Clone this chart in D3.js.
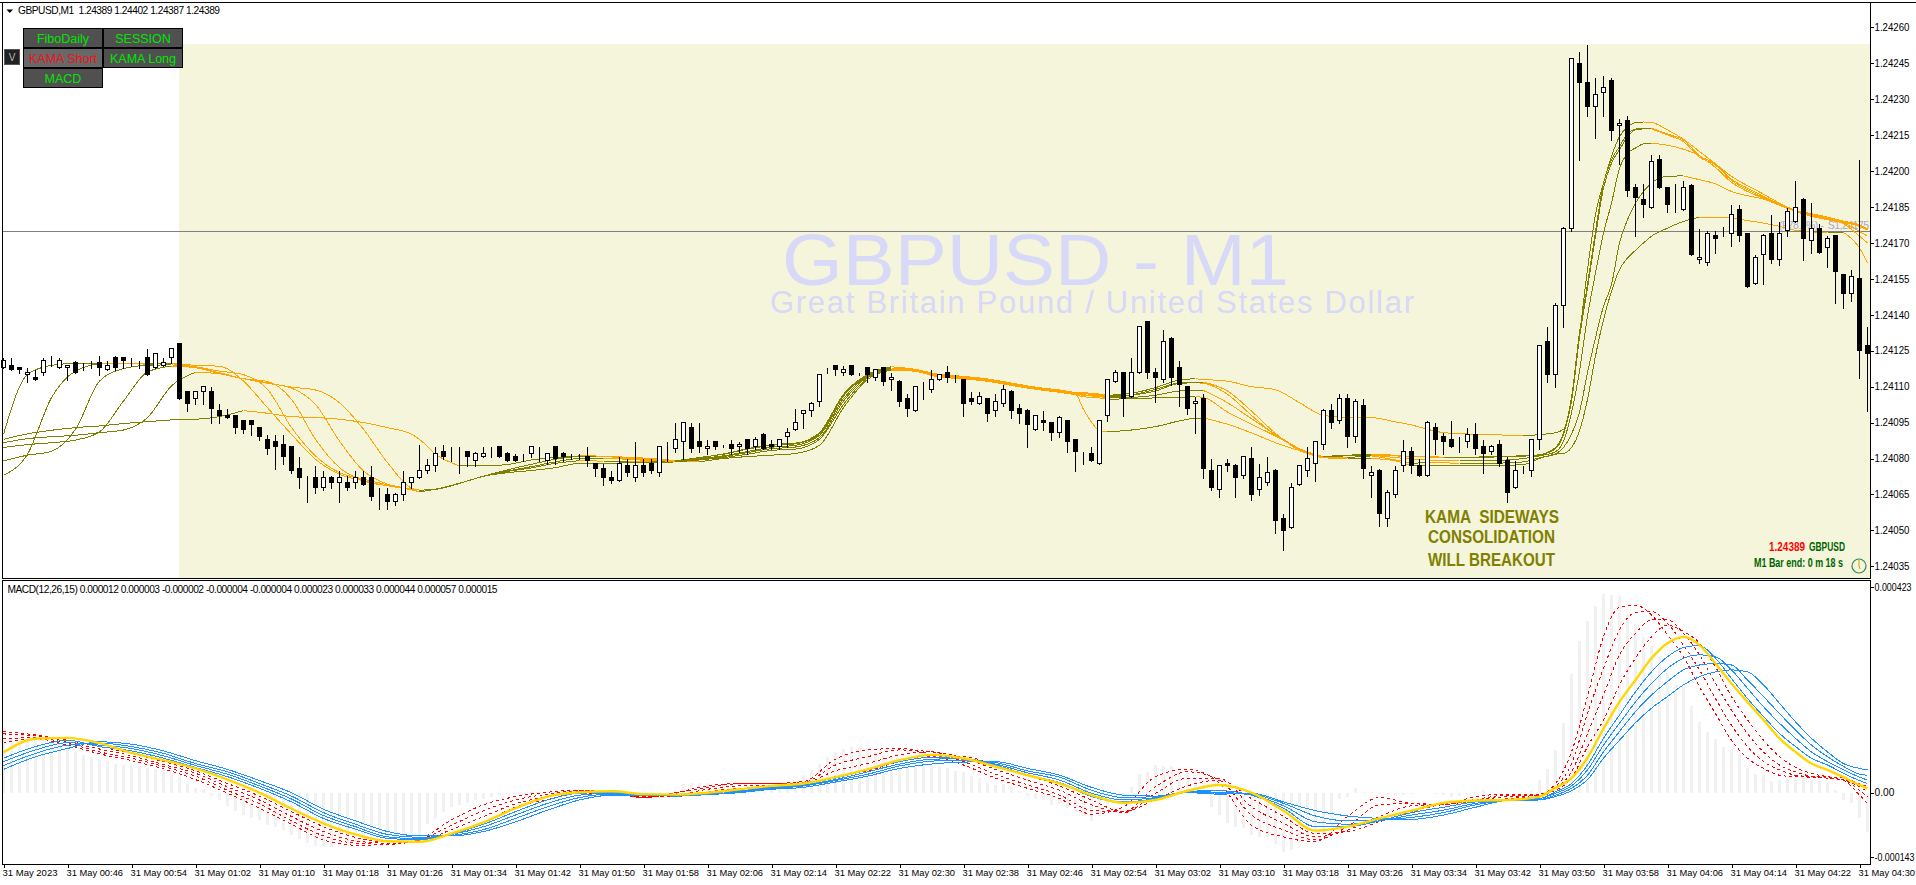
<!DOCTYPE html>
<html><head><meta charset="utf-8">
<style>
html,body{margin:0;padding:0;background:#fff;overflow:hidden}
svg{display:block}
text{font-family:"Liberation Sans",Arial,sans-serif;white-space:pre}
.crisp{shape-rendering:crispEdges}
.axis text{font-size:10.2px;fill:#000}
.axis line{stroke:#000;shape-rendering:crispEdges}
</style>
<script src="https://cdnjs.cloudflare.com/ajax/libs/d3/7.8.5/d3.min.js"></script>
</head><body><div id="chart"></div>
<script>
// ---------- data (prices in points above 1.24000) ----------
const priceBase = 1.24, pointSize = 0.00001;
const opens = [118,119,118,115,114,116,121,118,118,120,118,118,120,117,122,122,120,119,122,118,
119,122,128,108,105,108,108,100,98,98,96,96,93,88,87,86,85,76,72,72,
68,72,70,70,70,72,72,63,65,62,65,70,72,75,77,83,81,81,83,79,
81,82,85,82,81,81,82,81,79,85,82,82,81,81,78,76,72,71,77,72,
77,78,74,83,84,87,93,87,84,87,85,86,85,88,85,90,86,85,89,92,
99,100,104,117,119,116,119,115,118,114,118,113,112,105,100,110,109,113,116,115,
113,105,103,105,100,103,108,101,100,92,96,95,91,96,88,81,82,78,98,112,
116,106,116,137,116,113,130,118,110,103,105,75,67,78,77,73,80,67,70,75,
55,51,69,75,78,86,100,96,105,89,102,73,75,55,65,77,83,77,73,93,
89,88,86,87,90,85,83,86,79,68,76,75,88,129,115,144,176,245,237,227,
233,238,219,221,193,188,185,205,193,186,184,194,163,162,173,173,174,184,174,153,
165,174,163,175,179,188,171,176,168,173,157,149,155,127];
const closes = [121,117,117,116,113,121,121,121,119,116,118,118,118,119,118,121,120,119,115,124,
120,126,105,103,108,110,101,98,97,93,92,94,89,84,85,81,75,72,72,68,
72,70,72,68,72,69,64,63,62,65,70,72,75,77,82,81,81,81,81,82,
82,82,81,79,79,81,85,81,82,80,81,82,81,79,76,72,71,78,74,77,
74,75,85,83,88,95,84,85,85,85,85,84,86,84,88,84,85,88,91,95,
100,103,115,117,117,117,115,115,115,117,112,114,104,101,110,110,113,115,114,115,
103,104,106,99,104,109,100,99,94,98,95,91,97,87,83,81,79,96,113,116,
105,116,135,116,114,129,114,111,101,104,76,68,77,77,72,81,65,72,74,54,
50,68,77,80,87,100,95,105,89,104,76,74,57,66,75,83,77,73,95,88,
87,85,86,90,84,82,85,78,66,75,76,88,127,115,144,176,247,237,227,232,
235,217,220,192,189,186,204,193,186,186,193,165,164,174,172,173,182,173,152,164,
173,163,174,183,185,172,176,166,172,158,149,156,125,124];
const highs = [122,122,118,118,117,122,123,122,119,121,120,121,123,121,123,122,122,121,126,124,
122,126,128,108,108,110,110,103,101,98,96,96,93,90,90,90,85,81,73,77,
75,73,75,73,75,75,77,68,68,66,75,72,86,80,85,86,85,85,83,83,
85,85,85,83,82,82,85,85,82,85,83,82,82,85,78,78,75,81,80,87,
80,80,85,87,95,95,95,95,88,87,86,88,87,88,89,91,88,88,93,101,
100,104,115,118,119,119,119,116,118,117,118,116,113,107,110,112,117,115,119,115,
113,108,108,105,107,111,109,103,101,98,100,95,98,96,88,83,85,96,113,117,
116,122,135,137,118,134,131,121,110,106,107,80,77,80,78,81,85,78,81,76,
57,70,77,85,87,101,103,107,107,105,105,77,76,67,77,88,85,80,96,95,
91,96,89,93,95,88,86,88,81,79,77,88,127,135,145,177,247,250,253,239,
240,239,222,223,195,195,207,207,193,195,196,195,176,175,175,177,186,186,174,165,
174,182,179,185,196,189,187,178,173,173,157,159,205,135];
const lows = [118,117,116,112,113,115,119,118,113,116,117,118,115,117,117,118,119,118,115,118,
119,120,105,100,103,103,95,95,97,91,91,90,88,82,76,78,74,68,62,66,
67,68,62,67,68,69,63,59,59,61,63,68,72,74,75,80,79,74,77,77,
81,81,81,79,79,79,81,79,78,78,79,80,80,77,73,69,70,71,73,71,
73,74,73,79,83,80,83,83,82,84,85,82,83,82,84,84,84,84,85,92,
93,98,102,116,115,115,115,115,112,113,111,109,102,98,100,105,108,113,112,112,
98,103,103,96,98,102,97,95,85,92,92,88,89,83,75,78,79,78,96,112,
98,106,116,114,104,112,111,102,99,91,72,67,64,75,64,72,63,65,69,49,
42,51,69,73,71,84,93,95,85,87,72,64,52,52,64,75,74,73,73,82,
82,85,83,85,82,74,82,77,62,68,74,73,84,112,110,135,175,205,223,214,
223,213,203,190,173,181,185,193,183,183,184,165,162,161,166,173,169,171,152,153,
153,162,161,173,179,163,166,166,160,145,143,146,114,100];

const kamaBars = [0,3,6,9,12,15,18,21,24,27,30,33,36,39,42,45,48,51,52,54,57,
60,63,66,69,72,75,78,81,84,87,90,93,96,99,102,105,108,111,114,117,120,123,126,129,132,
134,135,136,137,138,141,144,147,149,150,153,156,159,162,165,168,171,174,
176,178,180,182,184,186,188,190,192,194,195,196,197,198,199,200,201,202,203,204,205,206,
208,210,212,214,216,218,220,222,224,226,228,230,232,233];
const kamaA = [90.1,115.1,118.9,119.7,119.8,119.7,119.6,119.7,118.9,118.5,112.3,101.2,90.1,79.7,73.4,70.7,68.6,66.9,66.1,67.2,69.7,
72.6,75.3,77.6,79.7,81.1,81.0,80.5,80.0,79.1,80.4,81.9,84.1,85.8,86.4,90.8,106.8,115.1,118.3,117.2,115.1,114.3,113.2,111.5,109.8,108.6,
107.6,107.5,107.2,106.9,106.4,107.2,109.6,112.8,113.3,113.0,112.3,110.0,108.7,103.3,98.0,97.2,97.1,95.3,
94.0,92.2,90.8,90.4,90.1,90.0,89.7,89.4,90.0,90.8,92.2,104.0,131.1,158.9,181.8,195.0,206.1,214.4,218.3,220.3,220.5,220.3,
217.2,213.3,208.2,203.0,197.8,193.9,190.4,186.6,183.6,182.2,180.8,179.1,177.6,175.8];
const kamaB = [73.0,81.8,105.4,116.5,119.4,119.7,119.4,119.6,118.3,116.5,115.0,108.9,92.9,81.1,74.1,71.4,69.0,66.9,66.1,67.2,69.7,
72.6,75.3,77.6,79.7,81.1,81.0,80.4,79.7,79.0,80.4,81.8,83.9,85.5,86.1,90.3,106.1,114.7,117.8,116.9,114.8,114.0,112.9,111.2,109.6,108.3,
107.3,107.1,106.8,106.6,106.1,106.6,108.9,111.6,111.9,111.9,108.2,99.8,90.5,83.3,80.8,81.4,81.6,81.4,
80.8,80.7,80.6,80.6,80.6,80.8,81.0,81.1,81.6,84.6,90.8,105.4,132.5,152.6,174.8,195.0,204.7,210.3,215.5,217.5,217.9,217.9,
215.5,213.0,206.4,203.0,196.6,192.9,189.4,186.1,183.6,181.8,180.4,178.7,177.2,175.5];
const kamaC = [79.0,81.4,83.0,92.2,112.3,117.5,118.9,119.1,117.9,115.5,113.3,112.2,104.7,88.0,76.2,70.7,68.6,66.9,66.1,67.2,69.7,
72.6,74.8,76.6,78.6,80.0,80.0,79.7,79.1,78.9,80.0,81.1,82.9,84.7,85.5,89.7,105.0,114.4,117.5,116.6,114.6,113.7,112.6,110.9,109.3,108.0,
107.1,106.6,106.4,106.2,105.8,106.4,108.2,111.4,111.6,111.4,106.8,98.0,89.7,84.1,80.8,81.1,81.5,81.1,
80.7,80.6,80.3,80.3,80.3,80.6,80.7,81.0,81.5,84.1,90.1,104.0,130.4,151.2,172.8,192.9,203.3,208.9,214.4,217.2,217.6,217.6,
215.1,212.3,205.8,202.5,196.1,192.2,189.0,186.0,183.4,181.5,180.1,178.6,176.9,175.3];
const kamaD = [84.6,85.8,86.6,87.7,91.1,104.0,116.1,118.6,117.9,115.8,113.3,111.4,109.4,102.6,87.3,74.8,69.3,67.2,66.1,67.2,69.7,
72.6,74.6,76.1,78.0,79.1,78.9,78.9,78.7,78.7,79.7,80.8,82.5,84.1,84.8,88.7,104.0,114.0,117.2,116.5,114.3,113.4,112.3,110.7,109.0,107.8,
106.8,106.4,106.1,105.8,105.3,105.5,106.4,108.2,108.4,108.4,103.3,96.6,90.1,84.1,80.8,81.1,81.4,80.4,
79.7,79.4,79.1,79.0,79.0,79.1,79.4,80.0,81.1,82.8,87.3,99.1,116.5,139.4,157.5,174.1,186.6,201.2,207.5,209.6,211.4,211.6,
210.8,209.1,206.4,201.5,195.3,191.5,188.6,185.7,183.2,181.4,180.0,178.3,174.8,172.8];
const kamaE = [86.6,88.3,89.1,89.7,90.8,91.9,97.1,110.3,116.0,115.4,113.3,111.6,109.8,108.6,103.3,92.2,78.3,67.6,66.8,67.1,69.6,
72.6,74.1,75.0,76.2,78.0,78.0,78.2,78.3,78.6,79.4,80.4,81.8,83.4,83.9,88.0,102.6,113.6,117.2,116.4,114.0,113.3,112.2,110.5,108.9,107.6,
106.6,105.8,105.5,105.3,104.7,105.0,105.3,105.5,105.8,105.5,99.4,94.3,89.4,83.9,80.7,80.4,81.1,79.4,
78.0,78.3,78.2,78.0,78.0,78.0,78.2,78.6,80.3,81.9,84.6,90.1,99.4,115.8,130.4,143.6,152.6,170.0,179.7,186.6,191.5,195.0,
197.8,198.0,196.4,194.7,191.5,189.7,188.3,185.7,183.2,181.1,179.7,178.0,172.8,170.0];
const kamaF = [88.0,90.3,91.8,92.9,93.6,94.6,95.4,96.1,96.4,97.5,100.0,98.9,97.5,97.1,96.4,95.0,92.9,90.1,88.0,81.8,76.9,
76.9,77.5,79.4,80.4,80.8,81.0,80.0,79.6,79.0,78.6,80.0,80.8,81.4,82.1,85.5,101.2,113.0,116.9,116.4,114.6,113.9,112.8,111.1,109.4,108.2,
106.9,100.5,95.2,91.5,91.1,91.9,93.3,95.7,96.8,96.9,94.3,90.7,86.6,83.3,80.3,80.0,80.0,79.0,
76.9,77.0,77.0,77.0,77.0,77.2,77.2,77.5,80.0,81.8,82.1,84.6,91.5,104.7,122.8,138.0,149.8,158.9,163.7,166.9,170.0,172.8,
176.2,179.0,180.8,180.7,180.4,179.3,178.3,176.9,175.3,174.6,174.4,174.4,167.9,161.6];

// MACD values in millionths
const macdUnit = 0.000001;
const macdHist = [112,108,112,115,112,108,105,102,95,84,78,73,69,66,60,57,57,54,50,48,
47,40,32,18,10,7,-7,-16,-27,-37,-46,-53,-56,-67,-70,-77,-87,-96,-103,-110,
-110,-111,-108,-104,-101,-96,-94,-91,-87,-91,-91,-87,-94,-65,-53,-39,-29,-25,-21,-15,
-12,-8,-5,-3,-3,-2,-1,0,1,1,2,2,1,1,-1,-2,-5,-6,-6,-4,
-3,-4,-2,2,5,18,19,21,19,18,18,18,16,14,12,11,14,14,18,25,
36,47,60,74,84,89,95,93,88,84,78,73,67,60,57,60,57,54,50,45,
43,34,30,21,16,18,14,4,-7,-12,-16,-25,-23,-32,-39,-49,-58,-49,-23,-15,
-8,11,38,43,57,54,54,47,43,33,26,-30,-46,-63,-71,-73,-87,-91,-91,-106,
-122,-117,-104,-97,-94,-87,-70,-12,-8,9,2,2,-3,-5,-7,-5,-3,-1,-1,-3,
-5,-8,-7,-3,2,5,2,0,-3,-3,-1,5,27,49,88,143,244,313,354,385,
409,407,405,369,347,321,302,280,246,222,218,178,146,126,111,95,90,78,50,38,
36,25,27,30,27,30,27,25,23,5,-15,-22,-53,-80];
const macdBars = [0,4,8,12,16,20,24,28,32,36,40,44,48,52,56,60,64,68,72,76,
80,84,88,92,96,100,104,108,112,116,120,124,128,132,136,140,144,148,152,156,
160,164,168,172,176,180,184,188,192,194,196,198,200,202,204,206,208,210,212,214,216,218,220,222,224,226,228,230,232,233];
const macdGold = [83,111,113,102,82,67,50,27,0,-33,-63,-86,-100,-101,-84,-61,-32,-8,1,3,
-3,-4,0,7,14,19,32,48,67,78,71,54,36,19,-5,-21,-15,4,16,0,
-37,-78,-70,-53,-37,-21,-16,-15,-8,10,30,72,132,187,232,277,308,321,304,266,225,187,150,112,84,60,47,32,16,9];
const macdRed1 = [102,111,98,80,66,49,27,-1,-32,-65,-97,-108,-107,-96,-56,-25,-8,1,5,0,
-10,0,14,19,19,23,69,88,91,78,57,30,9,-12,-44,-29,33,48,19,-67,
-91,-101,-49,-10,-22,-25,-8,-3,-3,19,84,198,321,382,386,366,325,280,218,163,108,71,50,36,33,32,30,25,-5,-22];
const macdRed2 = [112,113,102,84,71,54,34,5,-23,-58,-89,-104,-106,-97,-67,-37,-15,-3,4,0,
-10,-1,11,18,18,21,57,74,88,84,64,38,16,-5,-36,-39,12,43,26,-46,
-77,-97,-70,-25,-22,-25,-14,-5,-5,12,60,163,256,335,371,373,349,304,253,194,139,95,64,47,36,33,30,26,5,-8];
const macdRed3 = [121,117,105,90,76,58,40,12,-15,-49,-80,-99,-104,-99,-76,-49,-23,-8,2,-1,
-8,-5,7,14,15,19,45,60,78,84,71,48,26,5,-25,-41,-1,30,30,-29,
-63,-91,-77,-49,-27,-24,-16,-8,-6,9,43,122,201,284,328,356,356,328,284,225,170,122,84,57,43,34,32,27,12,2];
const macdRed4 = [126,119,108,95,81,64,45,19,-7,-39,-70,-92,-101,-101,-84,-61,-30,-14,-1,-3,
-7,-8,2,9,11,16,33,45,64,74,74,57,36,14,-15,-39,-14,14,26,-12,
-49,-84,-80,-60,-39,-24,-19,-12,-8,5,30,95,150,222,277,321,345,332,308,259,198,150,108,74,52,40,33,30,19,12];
const macdBlue1 = [71,95,108,95,86,71,52,33,9,-19,-53,-75,-94,-97,-85,-65,-39,-15,-1,0,
-3,-3,0,7,11,18,30,47,64,73,69,57,36,21,-8,-19,-12,3,4,-5,
-32,-70,-70,-58,-41,-30,-19,-16,-12,2,19,57,112,160,208,249,280,299,303,277,235,194,157,122,95,71,57,40,25,19];
const macdBlue2 = [64,88,103,98,91,76,56,38,14,-13,-47,-70,-91,-95,-86,-70,-46,-22,-5,-1,
-4,-5,-1,4,10,16,27,43,59,69,70,59,41,26,-1,-15,-10,2,1,-5,
-27,-60,-65,-58,-46,-36,-22,-16,-12,-1,14,47,98,143,187,225,256,277,284,280,253,215,177,143,112,84,64,47,32,26];
const macdBlue3 = [56,81,98,102,95,81,60,43,19,-7,-41,-65,-86,-92,-88,-76,-53,-29,-10,-3,
-5,-5,-3,2,8,14,25,38,55,65,67,62,45,32,5,-10,-8,1,-1,-3,
-22,-48,-58,-56,-51,-41,-25,-16,-14,-5,9,36,84,126,167,201,229,253,263,266,263,232,198,163,129,98,74,54,38,36];
const macdBlue4 = [48,74,91,105,100,86,66,48,25,0,-34,-58,-80,-89,-89,-80,-60,-36,-15,-5,
-5,-7,-4,0,7,11,22,34,50,59,63,64,50,36,11,-5,-7,0,-3,-1,
-19,-37,-48,-53,-55,-46,-30,-16,-15,-8,4,27,71,108,144,174,198,222,239,249,253,249,222,184,146,112,84,60,50,47];

const priceTicks = [1.24260,1.24245,1.24230,1.24215,1.24200,1.24185,1.24170,1.24155,1.24140,1.24125,1.24110,1.24095,1.24080,1.24065,1.24050,1.24035];
const macdTicks = [0.000423,0,-0.000143];
const macdTickLabels = ["0.000423","0.00","-0.000143"];
const timeLabels = ["31 May 2023","31 May 00:46","31 May 00:54","31 May 01:02","31 May 01:10","31 May 01:18","31 May 01:26","31 May 01:34","31 May 01:42","31 May 01:50",
"31 May 01:58","31 May 02:06","31 May 02:14","31 May 02:22","31 May 02:30","31 May 02:38","31 May 02:46","31 May 02:54","31 May 03:02","31 May 03:10",
"31 May 03:18","31 May 03:26","31 May 03:34","31 May 03:42","31 May 03:50","31 May 03:58","31 May 04:06","31 May 04:14","31 May 04:22","31 May 04:30"];

// ---------- layout ----------
const W=1916,H=885, left=2, axisX=1870, mainTop=2, mainBot=578, macdTop=580, macdBot=864;
const svg=d3.select("#chart").append("svg").attr("width",W).attr("height",H);
const x=d3.scaleLinear().domain([0,233]).range([3.5,3.5+8*233]);
const y=d3.scaleLinear().domain([1.24035,1.24245]).range([566.3,63.3]);
const ym=d3.scaleLinear().domain([0,0.000423]).range([792.7,587.3]);
const px=v=>priceBase+v*pointSize;
const snap=v=>Math.round(v-0.5)+0.5;

// session shade
svg.append("rect").attr("x",179).attr("y",44).attr("width",axisX-179).attr("height",mainBot-44).attr("fill","#f5f5dc");

// watermark titles
svg.append("text").attr("x",782).attr("y",285).attr("font-size",72).attr("fill","#d8d8f8")
  .attr("textLength",507).attr("lengthAdjust","spacingAndGlyphs").text("GBPUSD - M1");
svg.append("text").attr("x",770).attr("y",313).attr("font-size",31).attr("fill","#d8d8f8")
  .attr("textLength",644).attr("lengthAdjust","spacing").text("Great Britain Pound / United States Dollar");

// horizontal line and faint fibo label
svg.append("line").attr("class","crisp").attr("x1",left).attr("x2",axisX).attr("y1",231.5).attr("y2",231.5).attr("stroke","#808080");
svg.append("text").attr("x",1779).attr("y",229).attr("font-size",10.5).attr("fill","#a6a6cc")
  .attr("textLength",90).attr("lengthAdjust","spacing").text("(F78.6%) -  S1,24175");

// KAMA lines: orange when falling, olive otherwise
const kamaLine=d3.line().x(d=>x(d[0])).y(d=>y(px(d[1]))).curve(d3.curveMonotoneX);
const gK=svg.append("g").attr("class","crisp").attr("fill","none");
[kamaF,kamaE,kamaD,kamaC,kamaB,kamaA].forEach(series=>{
  const pts=kamaBars.map((b,i)=>[b,series[i]]);
  let run=[pts[0]], falling=pts[1][1]<pts[0][1];
  const flush=()=>gK.append("path").attr("d",kamaLine(run)).attr("stroke",falling?"#ffa500":"#808000");
  for(let i=1;i<pts.length;i++){
    const f=pts[i][1]<pts[i-1][1];
    if(f!==falling){flush();run=[pts[i-1]];falling=f;}
    run.push(pts[i]);
  }
  flush();
});

// candles
const candles=opens.map((o,i)=>({i,o,c:closes[i],h:highs[i],l:lows[i]}));
const gC=svg.append("g").attr("class","crisp");
gC.selectAll("line").data(candles).join("line")
  .attr("x1",d=>x(d.i)).attr("x2",d=>x(d.i))
  .attr("y1",d=>snap(y(px(d.h)))).attr("y2",d=>snap(y(px(d.l)))+1).attr("stroke","#000");
gC.selectAll("rect").data(candles).join("rect")
  .attr("x",d=>x(d.i)-2).attr("width",4)
  .attr("y",d=>snap(y(px(Math.max(d.o,d.c)))))
  .attr("height",d=>Math.max(0,snap(y(px(Math.min(d.o,d.c))))-snap(y(px(Math.max(d.o,d.c))))))
  .attr("fill",d=>d.c>d.o?"#fff":"#000").attr("stroke","#000");

// MACD pane
const gH=svg.append("g").attr("class","crisp").attr("fill","#f1f1f1");
gH.selectAll("rect").data(macdHist).join("rect")
  .attr("x",(d,i)=>x(i)-1.5).attr("width",3)
  .attr("y",d=>Math.min(ym(d*macdUnit),ym(0))).attr("height",d=>Math.abs(ym(d*macdUnit)-ym(0)));
const macdLine=d3.line().x((d,i)=>x(macdBars[i])).y(d=>ym(d*macdUnit)).curve(d3.curveMonotoneX);
[macdRed4,macdRed3,macdRed2,macdRed1].forEach(s=>svg.append("path").attr("class","crisp").attr("d",macdLine(s))
  .attr("fill","none").attr("stroke","#ff0000").attr("stroke-dasharray","3 3"));
[macdBlue4,macdBlue3,macdBlue2,macdBlue1].forEach(s=>svg.append("path").attr("class","crisp").attr("d",macdLine(s))
  .attr("fill","none").attr("stroke","#1e90ff"));
svg.append("path").attr("d",macdLine(macdGold)).attr("fill","none").attr("stroke","#ffd700").attr("stroke-width",2.4);

// frames
const frame=svg.append("g").attr("class","crisp").attr("stroke","#000");
[[0,W,2.5,2.5],[left+.5,left+.5,2,mainBot+1],[left+.5,left+.5,macdTop,macdBot+1],[left,axisX,mainBot+.5,mainBot+.5],
 [left,axisX,macdTop+.5,macdTop+.5],[left,axisX,macdBot+.5,macdBot+.5],[axisX+.5,axisX+.5,2,mainBot+1],[axisX+.5,axisX+.5,macdTop,macdBot+1]]
 .forEach(l=>frame.append("line").attr("x1",l[0]).attr("x2",l[1]).attr("y1",l[2]).attr("y2",l[3]));

// axes
const ax1=svg.append("g").attr("class","axis").attr("transform",`translate(${axisX+.5},0)`)
  .call(d3.axisRight(y).tickValues(priceTicks).tickFormat(d3.format(".5f")).tickSize(3).tickPadding(1));
ax1.select(".domain").remove();
ax1.selectAll("text").attr("textLength",35).attr("lengthAdjust","spacingAndGlyphs");
const ax2=svg.append("g").attr("class","axis").attr("transform",`translate(${axisX+.5},0)`)
  .call(d3.axisRight(ym).tickValues(macdTicks).tickFormat((d,i)=>macdTickLabels[i]).tickSize(3).tickPadding(1));
ax2.select(".domain").remove();
ax2.selectAll(".tick").filter(d=>d<0).attr("transform",`translate(0,${ym(-0.000143)-4.7})`);
ax2.selectAll(".tick").filter(d=>d<0).select("text").attr("textLength",40).attr("lengthAdjust","spacingAndGlyphs");
ax2.selectAll(".tick").filter(d=>d>0).select("text").attr("textLength",37).attr("lengthAdjust","spacingAndGlyphs");
const timeBars=timeLabels.map((d,i)=>i*8);
const ax3=svg.append("g").attr("class","axis").attr("transform",`translate(0,${macdBot+.5})`)
  .call(d3.axisBottom(x).tickValues(timeBars).tickFormat((d,i)=>timeLabels[i]).tickSize(3).tickPadding(2));
ax3.select(".domain").remove();
ax3.selectAll("text").attr("text-anchor","start").attr("dx",-1.5).style("font-size","9.7px")
  .attr("textLength",(d,i)=>i===0?55:56.5).attr("lengthAdjust","spacingAndGlyphs");

// headers
svg.append("path").attr("d","M6.5 9.5H13L9.75 13Z").attr("fill","#000");
svg.append("text").attr("x",18).attr("y",14).attr("font-size",10.2).attr("fill","#000")
  .attr("textLength",202).attr("lengthAdjust","spacing").text("GBPUSD,M1  1.24389 1.24402 1.24387 1.24389");
svg.append("text").attr("x",7.5).attr("y",593).attr("font-size",10.2).attr("fill","#000")
  .attr("textLength",490).attr("lengthAdjust","spacing")
  .text("MACD(12,26,15) 0.000012 0.000003 -0.000002 -0.000004 -0.000004 0.000023 0.000033 0.000044 0.000057 0.000015");

// buttons
const buttons=[["FiboDaily",23,28,"#00e600","#505050"],["SESSION",103,28,"#00e600","#505050"],
 ["KAMA Short",23,48,"#e8141c","#686868"],["KAMA Long",103,48,"#00e600","#505050"],["MACD",23,68,"#00e600","#505050"]];
buttons.forEach(b=>{
  svg.append("rect").attr("class","crisp").attr("x",b[1]+.5).attr("y",b[2]+.5).attr("width",79).attr("height",19)
    .attr("fill",b[4]).attr("stroke","#000");
  svg.append("text").attr("x",b[1]+40).attr("y",b[2]+14.5).attr("text-anchor","middle").attr("font-size",12.5).attr("fill",b[3]).text(b[0]);
});
svg.append("rect").attr("class","crisp").attr("x",4.5).attr("y",49.5).attr("width",15).attr("height",15).attr("fill","#222").attr("stroke","#555");
svg.append("text").attr("x",12).attr("y",61).attr("text-anchor","middle").attr("font-size",10).attr("fill","#bbb").text("V");

// annotation
[["KAMA  SIDEWAYS",1425,134,523],["CONSOLIDATION",1428,127,542.5],["WILL BREAKOUT",1428,127,565.5]].forEach(t=>
 svg.append("text").attr("x",t[1]).attr("y",t[3]).attr("font-size",18).attr("font-weight","bold").attr("fill","#808000")
   .attr("textLength",t[2]).attr("lengthAdjust","spacingAndGlyphs").text(t[0]));
const info=[["1.24389",1769,36,551,"#ff0000"],["GBPUSD",1809,36,551,"#006400"],["M1 Bar end: 0 m 18 s",1754,89,567,"#006400"]];
info.forEach(t=>svg.append("text").attr("x",t[1]).attr("y",t[3]).attr("font-size",13).attr("font-weight","bold").attr("fill",t[4])
   .attr("textLength",t[2]).attr("lengthAdjust","spacingAndGlyphs").text(t[0]));
svg.append("circle").attr("cx",1859).attr("cy",566).attr("r",7).attr("fill","none").attr("stroke","#2e8b57").attr("stroke-width",1.2);
svg.append("path").attr("d","M1859 560V566L1860 569").attr("fill","none").attr("stroke","#c8a000");
</script></body></html>
